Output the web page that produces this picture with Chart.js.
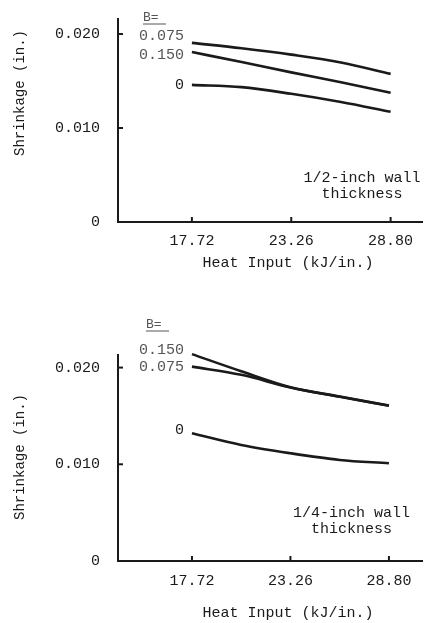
<!DOCTYPE html>
<html>
<head>
<meta charset="utf-8">
<script src="https://cdn.jsdelivr.net/npm/chart.js@4/dist/chart.umd.min.js"></script>
<style>
html, body { margin: 0; padding: 0; background: #fff; }
.box { position: relative; width: 428px; }
#top { height: 300px; }
#bottom { height: 323px; }
</style>
</head>
<body>
<div class="box" id="top"><canvas id="chartHalf"></canvas></div>
<div class="box" id="bottom"><canvas id="chartQuarter"></canvas></div>
<script>
// heat input (kJ/in.) where the curves were read
const heatInput = [17.72, 20.49, 23.26, 26.03, 28.80];
const xTicks = [17.72, 23.26, 28.80];
const yTicks = [0, 0.010, 0.020];
const seriesNames = ['0.075', '0.150', '0'];

// 1/2-inch wall thickness
const half075 = [0.01906, 0.01849, 0.01781, 0.01698, 0.01576];
const half150 = [0.01808, 0.01702, 0.01592, 0.01487, 0.01375];
const half0 = [0.01459, 0.01435, 0.01364, 0.01277, 0.01173];

// 1/4-inch wall thickness
const quarter075 = [0.02010, 0.01925, 0.01795, 0.01698, 0.01605];
const quarter150 = [0.02139, 0.01962, 0.01797, 0.01700, 0.01607];
const quarter0 = [0.01321, 0.01200, 0.01114, 0.01045, 0.01011];

const FONT = '"Liberation Mono", "DejaVu Sans Mono", monospace';
const INK = '#1a1a1a';

// texts drawn straight on the canvas (labels, titles, inward tick marks)
const paperText = {
    id: 'paperText',
    afterDraw(chart, args, o) {
        const ctx = chart.ctx;
        const x = chart.scales.x;
        const y = chart.scales.y;
        ctx.save();

        // tick marks point into the plot
        ctx.strokeStyle = INK;
        ctx.lineWidth = 2;
        xTicks.forEach(v => {
            const px = x.getPixelForValue(v);
            ctx.beginPath();
            ctx.moveTo(px, y.bottom);
            ctx.lineTo(px, y.bottom - 5);
            ctx.stroke();
        });
        yTicks.slice(1).forEach(v => {
            const py = y.getPixelForValue(v);
            ctx.beginPath();
            ctx.moveTo(x.left, py);
            ctx.lineTo(x.left + 5, py);
            ctx.stroke();
        });

        ctx.textBaseline = 'middle';

        // curve labels at the start of each line
        ctx.font = '15px ' + FONT;
        ctx.textAlign = 'right';
        const x0 = x.getPixelForValue(heatInput[0]);
        chart.data.datasets.forEach((ds, i) => {
            ctx.fillStyle = ds.label === '0' ? INK : '#555';
            ctx.fillText(ds.label, x0 - 8, y.getPixelForValue(ds.data[0].y) + o.labelDy[i]);
        });

        // B= header, underlined
        ctx.fillStyle = '#555';
        ctx.textAlign = 'left';
        ctx.font = '13px ' + FONT;
        ctx.fillText('B=', o.bPos[0], o.bPos[1]);
        ctx.strokeStyle = '#555';
        ctx.lineWidth = 1;
        ctx.beginPath();
        ctx.moveTo(o.bPos[0], o.bPos[1] + 6);
        ctx.lineTo(o.bPos[0] + 23, o.bPos[1] + 6);
        ctx.stroke();

        // wall thickness note
        ctx.fillStyle = INK;
        ctx.textAlign = 'center';
        ctx.font = '15px ' + FONT;
        const nx = x.getPixelForValue(o.note.x);
        const ny = y.getPixelForValue(o.note.y);
        ctx.fillText(o.note.lines[0], nx, ny);
        ctx.fillText(o.note.lines[1], nx, ny + 16);

        // axis titles
        ctx.font = '15px ' + FONT;
        ctx.fillText('Heat Input (kJ/in.)', 288, y.bottom + o.xTitleDy);
        ctx.translate(20, o.yTitleY);
        ctx.rotate(-Math.PI / 2);
        ctx.font = '14px ' + FONT;
        ctx.fillText('Shrinkage (in.)', 0, 0);
        ctx.restore();
    }
};

function makeChart(canvasId, values, cfg) {
    const datasets = values.map((vals, i) => ({
        label: seriesNames[i],
        data: heatInput.map((h, k) => ({ x: h, y: vals[k] })),
        borderColor: INK,
        borderWidth: 2.6,
        pointRadius: 0,
        fill: false,
        cubicInterpolationMode: 'monotone',
        clip: false
    }));

    return new Chart(document.getElementById(canvasId), {
        type: 'line',
        data: { datasets: datasets },
        plugins: [paperText],
        options: {
            responsive: true,
            maintainAspectRatio: false,
            animation: false,
            layout: { padding: { top: cfg.top, right: 6, left: 0, bottom: 0 } },
            plugins: {
                legend: { display: false },
                tooltip: { enabled: false },
                paperText: cfg.text
            },
            scales: {
                x: {
                    type: 'linear',
                    min: cfg.xMin,
                    max: cfg.xMax,
                    afterBuildTicks: s => { s.ticks = xTicks.map(v => ({ value: v })); },
                    afterFit: s => { s.height = cfg.xHeight; },
                    grid: { display: false },
                    border: { display: true, color: INK, width: 2 },
                    ticks: {
                        padding: cfg.xTickPad,
                        color: INK,
                        font: { family: FONT, size: 15 },
                        maxRotation: 0,
                        callback: v => v.toFixed(2)
                    }
                },
                y: {
                    min: 0,
                    max: cfg.yMax,
                    afterBuildTicks: s => { s.ticks = yTicks.map(v => ({ value: v })); },
                    afterFit: s => { s.width = 118; },
                    grid: { display: false },
                    border: { display: true, color: INK, width: 2 },
                    ticks: {
                        padding: 10,
                        color: INK,
                        font: { family: FONT, size: 15 },
                        callback: v => v === 0 ? '0' : v.toFixed(3)
                    }
                }
            }
        }
    });
}

makeChart('chartHalf', [half075, half150, half0], {
    top: 16, xHeight: 78, xTickPad: 2, xMin: 13.6, xMax: 30.55, yMax: 0.0216,
    text: {
        labelDy: [-7, 3, 0],
        bPos: [143, 18],
        note: { x: 27.2, y: 0.0047, lines: ['1/2-inch wall', 'thickness'] },
        xTitleDy: 41,
        yTitleY: 93
    }
});

makeChart('chartQuarter', [quarter075, quarter150, quarter0], {
    top: 55, xHeight: 62, xTickPad: 3, xMin: 13.56, xMax: 30.66, yMax: 0.0213,
    text: {
        labelDy: [0, -4, -3],
        bPos: [146, 25],
        note: { x: 26.7, y: 0.0050, lines: ['1/4-inch wall', 'thickness'] },
        xTitleDy: 52,
        yTitleY: 157
    }
});
</script>
</body>
</html>
